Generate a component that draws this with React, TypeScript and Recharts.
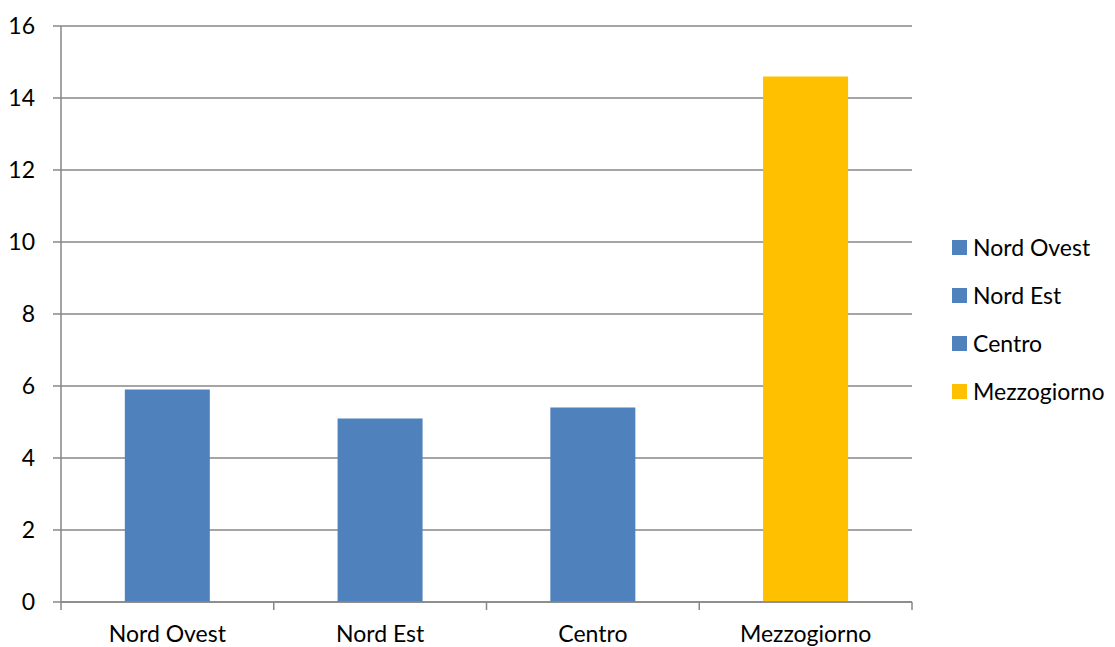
import React from "react";
import { BarChart, Bar, XAxis, YAxis, CartesianGrid, Cell } from "recharts";

const categories = ["Nord Ovest", "Nord Est", "Centro", "Mezzogiorno"];
const values = [5.9, 5.1, 5.4, 14.6];
const barColors = ["#4F81BD", "#4F81BD", "#4F81BD", "#FFC000"];
const yTicks = [0, 2, 4, 6, 8, 10, 12, 14, 16];
const edgeTicks = [0, 1, 2, 3, 4];

const data = categories.map((name, i) => ({ name, value: values[i], edge: i }));

const FONT = "Lato, 'Open Sans', sans-serif";
const GRID = "#878787";
const FS = 23;

const LegendBox = () => (
  <div
    style={{
      position: "absolute",
      left: 952,
      top: 223,
      fontFamily: FONT,
      fontSize: FS,
      color: "#000",
    }}
  >
    {categories.map((c, i) => (
      <div key={c} style={{ display: "flex", alignItems: "center", height: 48 }}>
        <div style={{ width: 15, height: 15, background: barColors[i], marginRight: 6 }} />
        <span>{c}</span>
      </div>
    ))}
  </div>
);

const EmptyTick = () => <g />;

export default function App() {
  return (
    <div style={{ position: "absolute", left: 0, top: 0, width: 1115, height: 647, background: "#fff" }}>
      <BarChart
        width={1115}
        height={647}
        data={data}
        margin={{ top: 26, right: 203, left: 0, bottom: 0 }}
        barCategoryGap="30%"
      >
        <CartesianGrid vertical={false} stroke={GRID} strokeWidth={1.5} xAxisId="b_cat" />
        <XAxis
          xAxisId="a_edges"
          type="number"
          dataKey="edge"
          domain={[0, 4]}
          ticks={edgeTicks}
          tick={<EmptyTick />}
          axisLine={{ stroke: GRID, strokeWidth: 1.5 }}
          tickLine={{ stroke: GRID, strokeWidth: 1.5 }}
          tickSize={8}
          height={1}
        />
        <XAxis
          xAxisId="b_cat"
          dataKey="name"
          axisLine={false}
          tickLine={false}
          height={44}
          tick={{ fill: "#000", fontSize: FS, fontFamily: FONT }}
          tickMargin={17}
        />
        <YAxis
          width={61}
          domain={[0, 16]}
          ticks={yTicks}
          axisLine={{ stroke: GRID, strokeWidth: 1.5 }}
          tickLine={{ stroke: GRID, strokeWidth: 1.5 }}
          tickSize={8}
          tickMargin={18}
          tick={{ fill: "#000", fontSize: FS, fontFamily: FONT }}
        />
        <Bar dataKey="value" xAxisId="b_cat" isAnimationActive={false}>
          {data.map((d, i) => (
            <Cell key={d.name} fill={barColors[i]} />
          ))}
        </Bar>
      </BarChart>
      <LegendBox />
    </div>
  );
}
